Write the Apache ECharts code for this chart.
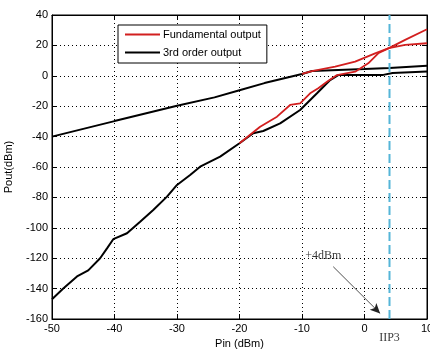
<!DOCTYPE html>
<html>
<head>
<meta charset="utf-8">
<script src="https://cdn.jsdelivr.net/npm/echarts@6/dist/echarts.min.js"></script>
<style>html,body{margin:0;padding:0;background:#fff;}#c{width:430px;height:350px;}</style>
</head>
<body>
<div id="c"></div>
<script>
// Axis ranges / ticks
const xMin = -50, xMax = 10, xStep = 10;
const yMin = -160, yMax = 40, yStep = 20;

// 3rd order output (slope ~1 line, black)
const linX = [-50, -40, -30, -24, -20, -16, -10, -8.4, 0, 4, 10];
const linY = [-40, -29.8, -19.7, -14.2, -9.5, -4.8, 1.2, 3.2, 4.4, 5.2, 6.6];

// 3rd order output (steep curve, black)
const imX = [-50, -48.2, -46, -44.2, -42.3, -41.2, -40.2, -38, -35.9, -33.8, -31.6, -30, -27.9, -26.3, -23.1, -20, -17.8, -16.2, -13.5, -10.3, -7.6, -5.5, -4.2, 3, 4.5, 10];
const imY = [-147, -140, -132, -128, -120, -113.5, -107.5, -103.6, -96, -88.3, -79.5, -71.8, -65.3, -59.8, -53.2, -44.4, -37.8, -36.3, -31.3, -22.5, -11.5, -2.8, 0.5, 0.6, 1.8, 2.8];

// Fundamental output (red, from steep curve)
const fundAX = [-20, -16.7, -14, -11.9, -10.3, -8.7, -7.4, -6, -4.4, -1.5, 0.6, 2.2, 3.9, 6.5, 10];
const fundAY = [-44.4, -33.5, -26.9, -19.2, -18.1, -11.5, -8.2, -3.9, 0.5, 2.7, 8.2, 14.8, 18.2, 20.3, 21.4];

// Fundamental output (red, from slope-1 line)
const fundBX = [-10, -8.4, -4.7, -1.5, 1.7, 3.9, 6.5, 10];
const fundBY = [1.2, 3.0, 6, 9.3, 14.8, 18.2, 23.6, 30.6];

// IIP3 marker and annotation
const iip3 = 4;
const iip3Label = 'IIP3';
const noteText = '+4dBm';
const notePos = [-6.6, -118.5];
const arrowFrom = [-5, -125.6];
const arrowTo = [2.5, -156.3];

const pairs = (xs, ys) => xs.map((x, i) => [x, ys[i]]);

const RED = '#d21f1f';
const BLACK = '#000000';
const sans = 'Liberation Sans, Arial, sans-serif';
const serif = 'Liberation Serif, Times New Roman, serif';

const chart = echarts.init(document.getElementById('c'), null, {renderer: 'canvas'});

const tickStyle = {inside: true, length: 5, lineStyle: {color: '#000', width: 1}};
const splitStyle = {show: true, lineStyle: {color: '#000', width: 1, type: [1, 3]}};

chart.setOption({
  backgroundColor: '#fff',
  animation: false,
  grid: {left: 52, right: 3, top: 15, bottom: 31, containLabel: false, outerBoundsMode: 'none',
         show: true, borderColor: '#000', borderWidth: 1, backgroundColor: 'transparent'},
  legend: {
    orient: 'vertical',
    left: 118, top: 25,
    data: ['Fundamental output', '3rd order output'],
    icon: 'rect',
    backgroundColor: '#fff',
    borderColor: '#000', borderWidth: 1,
    padding: [3, 6, 4, 7],
    itemWidth: 35, itemHeight: 2, itemGap: 5,
    textStyle: {fontFamily: sans, fontSize: 11, color: '#000', lineHeight: 13, padding: [0, 0, 0, -2]},
    selectedMode: false
  },
  xAxis: [{
    type: 'value', min: xMin, max: xMax, interval: xStep,
    name: 'Pin (dBm)', nameLocation: 'middle', nameGap: 18,
    nameTextStyle: {fontFamily: sans, fontSize: 11, color: '#000'},
    axisLine: {show: true, onZero: false, lineStyle: {color: '#000', width: 1}},
    axisTick: tickStyle,
    axisLabel: {fontFamily: sans, fontSize: 11, color: '#000', margin: 4, showMinLabel: true, showMaxLabel: true},
    splitLine: splitStyle
  }, {
    type: 'value', min: xMin, max: xMax, interval: xStep, position: 'top',
    axisLine: {show: true, onZero: false, lineStyle: {color: '#000', width: 1}},
    axisTick: tickStyle, axisLabel: {show: false}, splitLine: {show: false}
  }],
  yAxis: [{
    type: 'value', min: yMin, max: yMax, interval: yStep,
    name: 'Pout(dBm)', nameLocation: 'middle', nameGap: 38,
    nameTextStyle: {fontFamily: sans, fontSize: 11, color: '#000'},
    axisLine: {show: true, onZero: false, lineStyle: {color: '#000', width: 1}},
    axisTick: tickStyle,
    axisLabel: {fontFamily: sans, fontSize: 11, color: '#000', margin: 4},
    splitLine: splitStyle
  }, {
    type: 'value', min: yMin, max: yMax, interval: yStep, position: 'right',
    axisLine: {show: true, onZero: false, lineStyle: {color: '#000', width: 1}},
    axisTick: tickStyle, axisLabel: {show: false}, splitLine: {show: false}
  }],
  series: [
    {name: '3rd order output', type: 'line', symbol: 'none', data: pairs(linX, linY),
     lineStyle: {color: BLACK, width: 2}, itemStyle: {color: BLACK}},
    {name: '3rd order output', type: 'line', symbol: 'none', data: pairs(imX, imY),
     lineStyle: {color: BLACK, width: 2}, itemStyle: {color: BLACK}},
    {name: 'Fundamental output', type: 'line', symbol: 'none', data: pairs(fundAX, fundAY),
     lineStyle: {color: RED, width: 1.8}, itemStyle: {color: RED}},
    {name: 'Fundamental output', type: 'line', symbol: 'none', data: pairs(fundBX, fundBY),
     lineStyle: {color: RED, width: 1.8}, itemStyle: {color: RED},
     markLine: {
       silent: true, symbol: ['none', 'arrow'], symbolSize: [7, 10],
       lineStyle: {color: '#222', width: 0.8, type: 'solid'}, label: {show: false},
       data: [[{coord: arrowFrom}, {coord: arrowTo}]]
     }},
    {name: 'iip3', type: 'line', symbol: 'none', data: [[iip3, yMin], [iip3, yMax]],
     lineStyle: {color: '#55b5d8', width: 2, type: [9, 4]}},
    {name: 'labels', type: 'scatter', symbolSize: 1, itemStyle: {color: 'rgba(0,0,0,0)'},
     data: [
       {value: notePos, label: {show: true, position: 'inside', formatter: noteText, fontFamily: serif, fontSize: 12, color: '#000'}},
       {value: [iip3, yMin], label: {show: true, position: 'bottom', distance: 12, formatter: iip3Label, fontFamily: serif, fontSize: 12, color: '#000'}}
     ],
     clip: false, silent: true}
  ]
});
</script>
</body>
</html>
